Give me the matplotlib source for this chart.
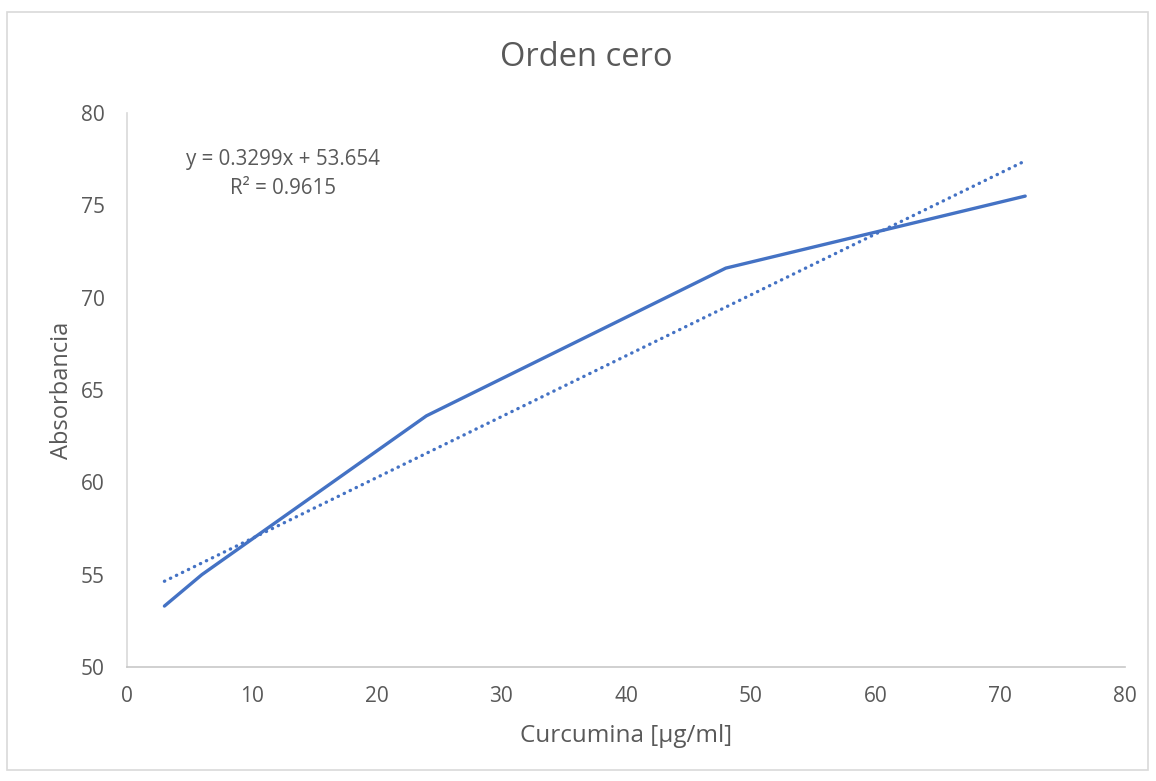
import numpy as np
import matplotlib
matplotlib.use("Agg")
import matplotlib.pyplot as plt
from matplotlib.patches import Rectangle

# Datos
curcumina = [3, 6, 24, 48, 72]
absorbancia = [53.3, 55.0, 63.6, 71.6, 75.5]
pendiente = 0.3299
intercepto = 53.654
r2 = 0.9615

azul = "#4472C4"
gris = "#595959"

plt.rcParams["font.family"] = ["Open Sans", "DejaVu Sans"]

fig = plt.figure(figsize=(11.56, 7.81), dpi=100)
ax = fig.add_axes([127 / 1156, 1 - 667 / 781, (1125 - 127) / 1156, (667 - 113) / 781])

ax.plot(curcumina, absorbancia, color=azul, linewidth=2.4, solid_capstyle="round")

# Línea de tendencia
xt = np.array([curcumina[0], curcumina[-1]])
ax.plot(xt, pendiente * xt + intercepto, color=azul, linewidth=2.4,
        linestyle=(0, (0.1, 1.9)), dash_capstyle="round")

ax.text(283 / 1156, 1 - 174 / 781, f"y = {pendiente}x + {intercepto}\nR² = {r2}",
        transform=fig.transFigure, ha="center", va="center",
        fontsize=14.8, color=gris, linespacing=1.45)

ax.set_xlim(0, 80)
ax.set_ylim(50, 80)
ax.set_xticks(range(0, 81, 10))
ax.set_yticks(range(50, 81, 5))
ax.tick_params(length=0, labelsize=15, labelcolor=gris)
ax.tick_params(axis="x", pad=14)
ax.tick_params(axis="y", pad=16)

for s in ["top", "right"]:
    ax.spines[s].set_visible(False)
ax.spines["left"].set_color("#D9D9D9")
ax.spines["bottom"].set_color("#C8C8C8")
ax.spines["left"].set_linewidth(1.2)
ax.spines["bottom"].set_linewidth(1.2)

fig.text(586 / 1156, 1 - 57 / 781, "Orden cero", fontsize=23.5, color=gris,
         ha="center", va="center")
ax.set_xlabel("Curcumina [µg/ml]", fontsize=17.5, color=gris, labelpad=12)
ax.set_ylabel("Absorbancia", fontsize=17, color=gris, labelpad=5)

# Borde exterior
fig.patches.append(Rectangle((7 / 1156, 11 / 781), 1141 / 1156, 758 / 781,
                             transform=fig.transFigure, fill=False,
                             edgecolor="#D9D9D9", linewidth=1.2))

fig.savefig("out.png", dpi=100)
